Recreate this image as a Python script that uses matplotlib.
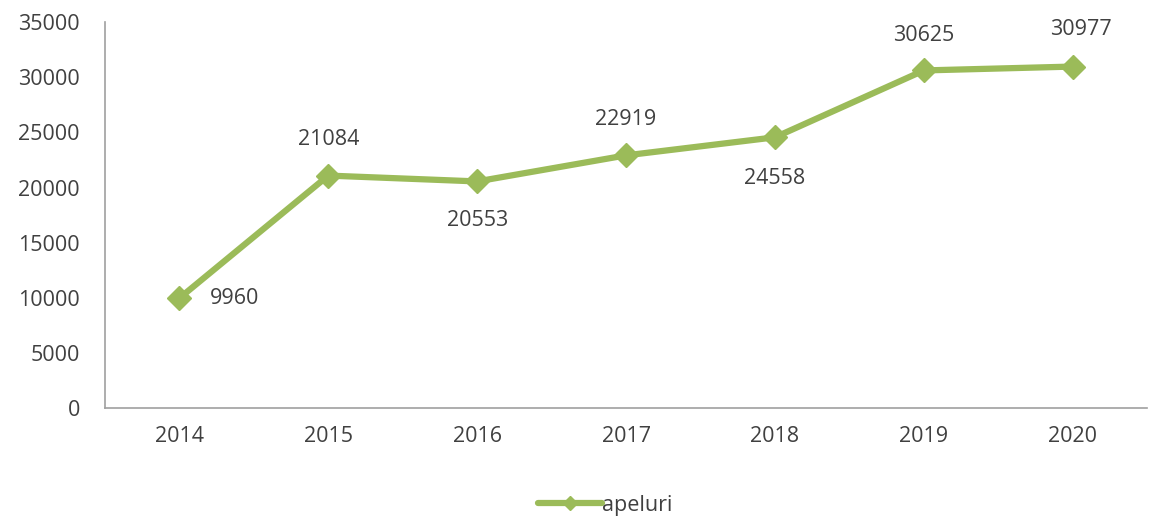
import matplotlib

matplotlib.use("Agg")
import matplotlib.pyplot as plt

years = ["2014", "2015", "2016", "2017", "2018", "2019", "2020"]
apeluri = [9960, 21084, 20553, 22919, 24558, 30625, 30977]
yticks = [0, 5000, 10000, 15000, 20000, 25000, 30000, 35000]

# label offsets (points) per data label
label_offsets = [(40, 0), (0, 26), (0, -28), (0, 26), (0, -30), (0, 25), (6, 27)]

plt.rcParams["font.family"] = ["Open Sans", "DejaVu Sans"]
green = "#9bbb59"
text_col = "#404040"
fs = 15.5

fig = plt.figure(figsize=(11.53, 5.17), dpi=100)
ax = fig.add_axes([0.091, 0.211, 0.904, 0.746])

x = range(len(years))
ax.plot(x, apeluri, color=green, lw=4.5, marker="D", markersize=12,
        markeredgecolor=green, label="apeluri", solid_capstyle="round")

for i, v in enumerate(apeluri):
    ax.annotate(str(v), (i, v), xytext=label_offsets[i], textcoords="offset points",
                ha="center", va="center", fontsize=fs, color=text_col)

ax.set_xlim(-0.5, len(years) - 0.5)
ax.set_ylim(0, 35000)
ax.set_yticks(yticks)
ax.set_xticks(list(x))
ax.set_xticklabels(years)
ax.tick_params(length=0, labelsize=fs, labelcolor=text_col)
ax.tick_params(axis="y", pad=18)
ax.tick_params(axis="x", pad=13)

for s in ["top", "right"]:
    ax.spines[s].set_visible(False)
for s in ["left", "bottom"]:
    ax.spines[s].set_color("#a0a0a0")
    ax.spines[s].set_linewidth(1.2)

fig.legend(loc="lower center", bbox_to_anchor=(0.525, -0.035), frameon=False,
           fontsize=fs, handlelength=3, handletextpad=0.0, labelcolor=text_col,
           markerscale=0.6)

fig.savefig("out.png", dpi=100, facecolor="white")
